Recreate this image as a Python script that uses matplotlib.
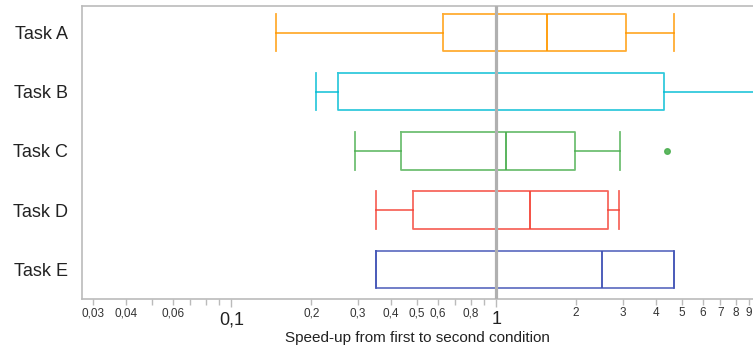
import matplotlib.pyplot as plt
from matplotlib.ticker import FixedLocator, FixedFormatter

plt.rcParams['font.family'] = ['Liberation Sans', 'DejaVu Sans']

# Data
tasks = ['Task A', 'Task B', 'Task C', 'Task D', 'Task E']
whislo = [0.147, 0.209, 0.293, 0.352, 0.352]
q1 = [0.629, 0.253, 0.437, 0.483, 0.352]
med = [1.55, 1.0, 1.09, 1.34, 2.51]
q3 = [3.09, 4.29, 1.975, 2.64, 4.68]
whishi = [4.67, 12.0, 2.94, 2.91, 4.68]
fliers = [[], [], [4.42], [], []]
colors = ['#FF9800', '#00BCD4', '#4CAF50', '#F44336', '#3F51B5']

major_ticks = [0.1, 1]
major_labels = ['0,1', '1']
minor_ticks = [0.03, 0.04, 0.05, 0.06, 0.07, 0.08, 0.09,
               0.2, 0.3, 0.4, 0.5, 0.6, 0.7, 0.8, 0.9,
               2, 3, 4, 5, 6, 7, 8, 9]
minor_labels = ['0,03', '0,04', '', '0,06', '', '', '',
                '0,2', '0,3', '0,4', '0,5', '0,6', '', '0,8', '',
                '2', '3', '4', '5', '6', '7', '8', '9']

fig = plt.figure(figsize=(7.53, 3.52), dpi=100)
ax = fig.add_axes([0.109, 0.151, 0.891, 0.832])

for i in range(len(tasks)):
    st = dict(med=med[i], q1=q1[i], q3=q3[i], whislo=whislo[i],
              whishi=whishi[i], fliers=fliers[i], label=tasks[i])
    c = colors[i]
    ax.bxp([st], positions=[i], widths=0.63, vert=False, showfliers=True,
           capwidths=[0.63],
           boxprops=dict(color=c, lw=1.3, alpha=0.8),
           whiskerprops=dict(color=c, lw=1.3, alpha=0.8),
           capprops=dict(color=c, lw=1.3, alpha=0.8),
           medianprops=dict(color=c, lw=1.3),
           flierprops=dict(marker='o', markersize=4, markerfacecolor=c,
                           markeredgecolor=c, alpha=0.9))

ax.axvline(1, color='#b0b0b0', lw=2.3, zorder=5)

ax.set_xscale('log')
ax.set_xlim(0.0273, 9.3)
ax.set_ylim(4.5, -0.45)

ax.set_yticks(range(len(tasks)))
ax.set_yticklabels(tasks, fontsize=13, color='#222222')
ax.tick_params(axis='y', length=0, pad=10)

ax.xaxis.set_major_locator(FixedLocator(major_ticks))
ax.xaxis.set_major_formatter(FixedFormatter(major_labels))
ax.xaxis.set_minor_locator(FixedLocator(minor_ticks))
ax.xaxis.set_minor_formatter(FixedFormatter(minor_labels))
ax.tick_params(axis='x', which='major', length=6, width=1, color='#bbbbbb',
               labelsize=13, labelcolor='#222222', pad=3)
ax.tick_params(axis='x', which='minor', length=4, width=1, color='#bbbbbb',
               labelsize=8.5, labelcolor='#333333', pad=2)

ax.set_xlabel('Speed-up from first to second condition', fontsize=11,
              color='#222222', labelpad=2)

for s in ['left', 'top', 'bottom']:
    ax.spines[s].set_color('#bbbbbb')
    ax.spines[s].set_linewidth(1.2)
ax.spines['right'].set_visible(False)

fig.savefig('out.png', dpi=100)
